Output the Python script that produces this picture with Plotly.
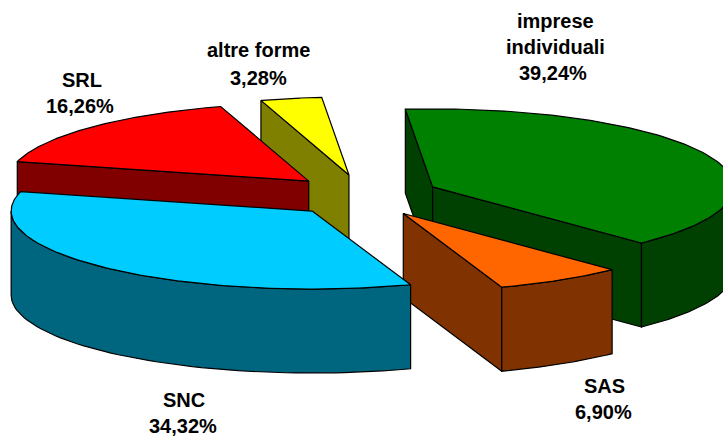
import numpy as np
import plotly.graph_objects as go

categories = ["imprese individuali", "SAS", "SNC", "SRL", "altre forme"]
shares = [39.24, 6.90, 34.32, 16.26, 3.28]
share_labels = ["39,24%", "6,90%", "34,32%", "16,26%", "3,28%"]
top_colors = ["#008000", "#FF6600", "#00CCFF", "#FF0000", "#FFFF00"]
side_colors = ["#004000", "#803300", "#006680", "#800000", "#808000"]

# Projection of the tilted, exploded pie (page pixels)
CX, CY = 363.6, 195.6
RX, RY = 301.0, 78.0
EX, EY = 75.9, 21.0
DEPTH = 84.0
FIRST_ANGLE = -5.2
LINE = dict(color="#000000", width=1.2)
DRAW_ORDER = [4, 3, 0, 1, 2]

# Label text lines with their centre positions
label_lines = [
    [("imprese", 555, 21), ("individuali", 555, 47), (share_labels[0], 553, 73)],
    [("SAS", 604, 386), (share_labels[1], 603, 412)],
    [("SNC", 184, 400), (share_labels[2], 183, 426)],
    [("SRL", 82, 80), (share_labels[3], 80, 106)],
    [("altre forme", 258, 50), (share_labels[4], 258, 78)],
]

fig = go.Figure()


def poly(xs, ys, color):
    fig.add_trace(go.Scatter(
        x=list(xs), y=list(ys), mode="lines", fill="toself", fillcolor=color,
        line=LINE, hoverinfo="skip", showlegend=False,
    ))


edges = FIRST_ANGLE + np.concatenate([[0], np.cumsum(shares)]) * 3.6
for i in DRAW_ORDER:
    start, end = edges[i], edges[i + 1]
    mid = np.radians((start + end) / 2)
    cx = CX + EX * np.sin(mid)
    cy = CY - EY * np.cos(mid)

    def rim(deg):
        r = np.radians(deg)
        return cx + RX * np.sin(r), cy - RY * np.cos(r)

    sx, sy = rim(start)
    ex, ey = rim(end)
    # radial walls that face the viewer
    if np.sin(np.radians(start)) < 0:
        poly([cx, sx, sx, cx, cx], [cy, sy, sy + DEPTH, cy + DEPTH, cy], side_colors[i])
    if np.sin(np.radians(end)) > 0:
        poly([cx, ex, ex, cx, cx], [cy, ey, ey + DEPTH, cy + DEPTH, cy], side_colors[i])
    # outer rim wall, front half only
    lo, hi = max(start, 90), min(end, 270)
    if hi > lo:
        a = np.linspace(lo, hi, 60)
        rx, ry = rim(a)
        poly(np.r_[rx, rx[::-1], rx[0]], np.r_[ry, ry[::-1] + DEPTH, ry[0]], side_colors[i])
    # top face
    a = np.linspace(start, end, 120)
    rx, ry = rim(a)
    poly(np.r_[cx, rx, cx], np.r_[cy, ry, cy], top_colors[i])

for lines in label_lines:
    for text, x, y in lines:
        fig.add_annotation(
            x=x, y=y, text=f"<b>{text}</b>", showarrow=False, xanchor="center", yanchor="middle",
            font=dict(family="Liberation Sans, Arial, sans-serif", size=20, color="#000000"),
        )

fig.update_layout(
    width=723, height=436, margin=dict(l=0, r=0, t=0, b=0),
    paper_bgcolor="#FFFFFF", plot_bgcolor="#FFFFFF",
    xaxis=dict(range=[0, 723], visible=False, fixedrange=True),
    yaxis=dict(range=[436, 0], visible=False, fixedrange=True),
)
fig.write_html("out.html", config={"displayModeBar": False},
               post_script="document.body.style.margin='0';document.body.style.overflow='hidden';")
